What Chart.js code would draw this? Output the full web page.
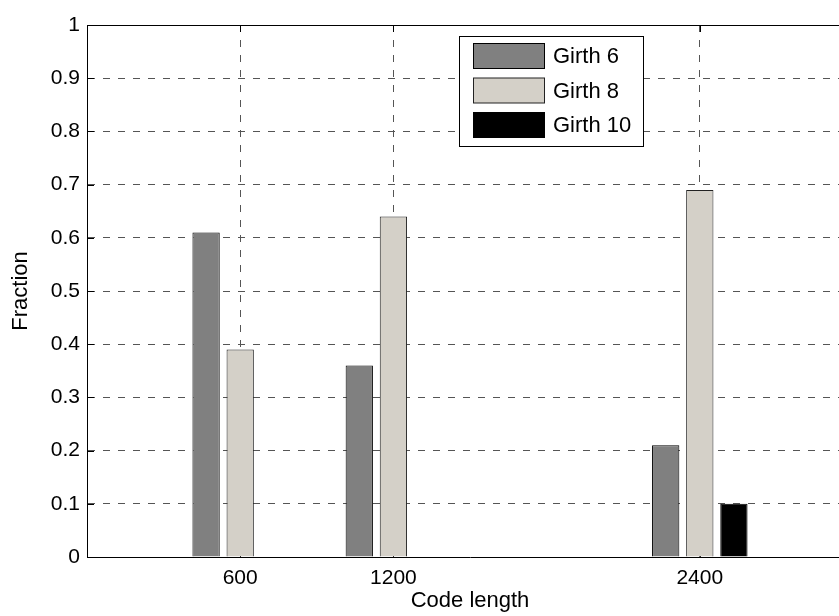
<!DOCTYPE html>
<html>
<head>
<meta charset="utf-8">
<title>Fraction by code length and girth</title>
<script src="https://cdn.jsdelivr.net/npm/chart.js@4/dist/chart.umd.min.js"></script>
<style>
  html, body { margin: 0; padding: 0; background: #fff; overflow: hidden; }
  #wrap { width: 870px; height: 616px; }
</style>
</head>
<body>
<div id="wrap"><canvas id="c" width="870" height="616"></canvas></div>
<script>
// Code lengths on the x axis
const codeLengths = [600, 1200, 2400];
// Fraction of codes reaching each girth
const girth6  = [0.61, 0.36, 0.21];
const girth8  = [0.39, 0.64, 0.69];
const girth10 = [0.00, 0.00, 0.10];
const seriesNames = ['Girth 6', 'Girth 8', 'Girth 10'];

// Axis ticks and their labels
const xTicks = [600, 1200, 2400];
const xTickLabels = ['600', '1200', '2400'];
const yTicks = [0, 0.1, 0.2, 0.3, 0.4, 0.5, 0.6, 0.7, 0.8, 0.9, 1];
const yTickLabels = ['0', '0.1', '0.2', '0.3', '0.4', '0.5', '0.6', '0.7', '0.8', '0.9', '1'];

const FONT = "'Liberation Sans', Arial, Helvetica, sans-serif";
Chart.defaults.font.family = FONT;
Chart.defaults.color = '#000';

const toPoints = vals => codeLengths.map((c, i) => ({ x: c, y: vals[i] }));

// Box around the axes and inward tick marks
const frameTicks = {
  id: 'frameTicks',
  beforeDatasetsDraw(chart) {
    const { ctx, chartArea: a, scales: { x, y } } = chart;
    const L = 7;
    ctx.save();
    ctx.strokeStyle = '#000';
    ctx.lineWidth = 1;
    ctx.beginPath();
    ctx.moveTo(a.left, Math.round(a.top) + 0.5);
    ctx.lineTo(a.right, Math.round(a.top) + 0.5);
    yTicks.forEach(v => {
      const py = Math.round(y.getPixelForValue(v)) + 0.5;
      ctx.moveTo(a.left, py); ctx.lineTo(a.left + L, py);
      ctx.moveTo(a.right, py); ctx.lineTo(a.right - L, py);
    });
    xTicks.forEach(v => {
      const px = Math.round(x.getPixelForValue(v)) + 0.5;
      ctx.moveTo(px, a.bottom); ctx.lineTo(px, a.bottom - L);
      ctx.moveTo(px, a.top); ctx.lineTo(px, a.top + L);
    });
    ctx.stroke();
    ctx.restore();
  }
};

// Boxed legend inside the plot
const boxLegend = {
  id: 'boxLegend',
  afterDraw(chart) {
    const { ctx } = chart;
    const bx = 459.5, by = 36.5, bw = 184, bh = 110;
    ctx.save();
    ctx.fillStyle = '#fff';
    ctx.fillRect(bx, by, bw, bh);
    ctx.strokeStyle = '#000';
    ctx.lineWidth = 1;
    ctx.strokeRect(bx, by, bw, bh);
    ctx.font = '22px ' + FONT;
    ctx.textBaseline = 'middle';
    ctx.textAlign = 'left';
    chart.data.datasets.forEach((ds, i) => {
      const sy = 43.5 + i * 34.5;
      ctx.fillStyle = ds.backgroundColor;
      ctx.fillRect(473.5, sy, 71, 25);
      ctx.strokeStyle = ds.borderColor;
      ctx.strokeRect(473.5, sy, 71, 25);
      ctx.fillStyle = '#000';
      ctx.fillText(ds.label, 553, sy + 13.5);
    });
    ctx.restore();
  }
};

new Chart(document.getElementById('c'), {
  type: 'bar',
  data: {
    datasets: [
      { label: seriesNames[0], data: toPoints(girth6),  backgroundColor: '#808080', borderColor: '#000', borderWidth: 1 },
      { label: seriesNames[1], data: toPoints(girth8),  backgroundColor: '#d4d0c8', borderColor: '#222', borderWidth: 1 },
      { label: seriesNames[2], data: toPoints(girth10), backgroundColor: '#000',    borderColor: '#000', borderWidth: 1 }
    ]
  },
  options: {
    responsive: false,
    animation: false,
    devicePixelRatio: 1,
    categoryPercentage: 0.668,
    barPercentage: 0.8,
    layout: { padding: { top: 25, right: 17, left: 0, bottom: 0 } },
    plugins: { legend: { display: false }, tooltip: { enabled: false } },
    scales: {
      x: {
        type: 'linear',
        min: 0,
        max: 3000,
        offset: false,
        afterBuildTicks: s => { s.ticks = xTicks.map(v => ({ value: v })); },
        afterFit: s => { s.height = 59; },
        grid: { offset: false, color: '#555', lineWidth: 1, drawTicks: false },
        border: { display: true, color: '#000', width: 1, dash: [7, 8] },
        ticks: {
          padding: 9,
          font: { size: 21 },
          maxRotation: 0,
          callback: (v, i) => xTickLabels[i]
        },
        title: { display: true, text: 'Code length', font: { size: 22 }, padding: { top: 0, bottom: 2 } }
      },
      y: {
        type: 'linear',
        min: 0,
        max: 1,
        afterBuildTicks: s => { s.ticks = yTicks.map(v => ({ value: v })); },
        afterFit: s => { s.width = 87; },
        grid: { color: '#555', lineWidth: 1, drawTicks: false },
        border: { display: true, color: '#000', width: 1, dash: [7, 8] },
        ticks: {
          padding: 7,
          font: { size: 21 },
          callback: (v, i) => yTickLabels[i]
        },
        title: { display: true, text: 'Fraction', font: { size: 22 }, padding: { top: 8, bottom: 0 } }
      }
    }
  },
  plugins: [frameTicks, boxLegend]
});
</script>
</body>
</html>
